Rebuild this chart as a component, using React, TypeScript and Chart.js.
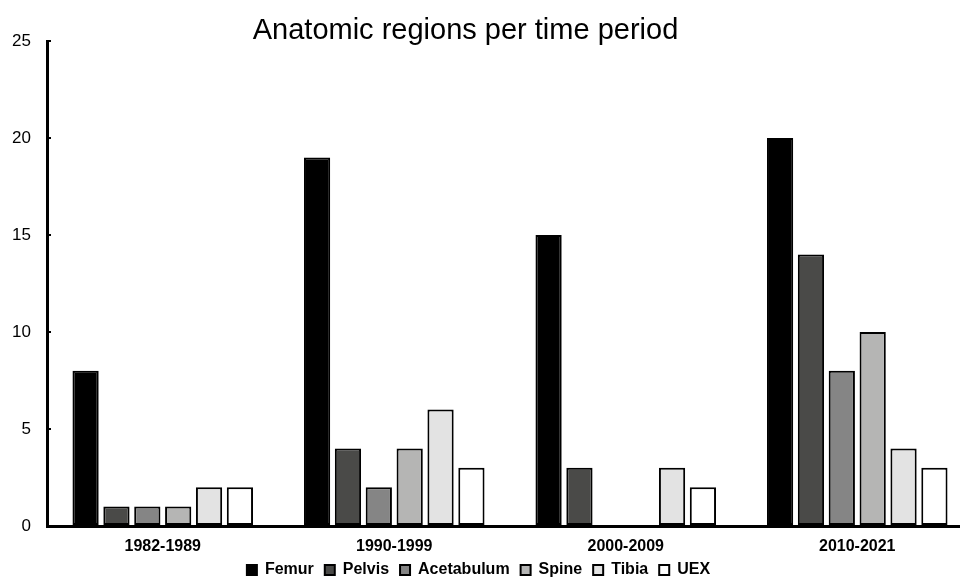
import React, { useEffect, useRef } from "react";
import { Chart, registerables } from "chart.js";

Chart.register(...registerables);

const categories = ["1982-1989", "1990-1999", "2000-2009", "2010-2021"];
const femur = [8, 19, 15, 20];
const pelvis = [1, 4, 3, 14];
const acetabulum = [1, 2, 0, 8];
const spine = [1, 4, 0, 10];
const tibia = [2, 6, 3, 4];
const uex = [2, 3, 2, 3];
const seriesNames = ["Femur", "Pelvis", "Acetabulum", "Spine", "Tibia", "UEX"];
const seriesColors = ["#000000", "#4a4a48", "#858585", "#b5b5b4", "#e3e3e3", "#ffffff"];

const FONT = "'Liberation Sans', Arial, Helvetica, sans-serif";

export default function App() {
  const ref = useRef<HTMLCanvasElement | null>(null);

  useEffect(() => {
    if (!ref.current) return;
    const values = [femur, pelvis, acetabulum, spine, tibia, uex];
    const shiftPlugin = {
      id: "shiftBlocks",
      afterLayout(chart: any) {
        if (chart.titleBlock) {
          chart.titleBlock.left -= 21;
          chart.titleBlock.right -= 21;
        }
        if (chart.legend) {
          chart.legend.left -= 8;
          chart.legend.right -= 8;
        }
      },
    };
    const chart = new Chart(ref.current, {
      type: "bar",
      data: {
        labels: categories,
        datasets: seriesNames.map((name, i) => ({
          label: name,
          data: values[i],
          backgroundColor: seriesColors[i],
          borderColor: "#000000",
          borderWidth: 2,
          borderSkipped: false,
          barPercentage: 0.85,
          categoryPercentage: 0.8,
        })),
      },
      plugins: [shiftPlugin],
      options: {
        responsive: false,
        animation: false,
        devicePixelRatio: 1,
        layout: { padding: { left: 0, right: 2, top: 0, bottom: -7 } },
        plugins: {
          title: {
            display: true,
            text: "Anatomic regions per time period",
            color: "#000000",
            font: { family: FONT, size: 29, weight: "normal", lineHeight: 1 },
            padding: { top: 16, bottom: -4 },
          },
          legend: {
            position: "bottom",
            labels: {
              color: "#000000",
              font: { family: FONT, size: 16, weight: "bold" },
              boxWidth: 10,
              boxHeight: 10,
              padding: 11,
            },
          },
          tooltip: { enabled: false },
        },
        scales: {
          x: {
            afterFit: (s: any) => {
              s.height = 25;
            },
            grid: { display: true, drawOnChartArea: false, drawTicks: false },
            border: { display: true, color: "#000000", width: 3 },
            ticks: {
              color: "#000000",
              font: { family: FONT, size: 16, weight: "bold" },
              padding: 11,
            },
          },
          y: {
            min: 0,
            max: 25,
            afterFit: (s: any) => {
              s.width = 47;
            },
            grid: {
              display: true,
              drawOnChartArea: false,
              drawTicks: true,
              tickLength: -4,
              color: "#000000",
              lineWidth: 2,
            },
            border: { display: true, color: "#000000", width: 3 },
            ticks: {
              stepSize: 5,
              color: "#000000",
              font: { family: FONT, size: 17 },
              padding: 20,
            },
          },
        },
      },
    });
    return () => chart.destroy();
  }, []);

  return (
    <div style={{ position: "fixed", left: 0, top: 0, width: 960, height: 581, overflow: "hidden", background: "#fff" }}>
      <canvas ref={ref} width={975} height={581} style={{ display: "block" }} />
    </div>
  );
}
